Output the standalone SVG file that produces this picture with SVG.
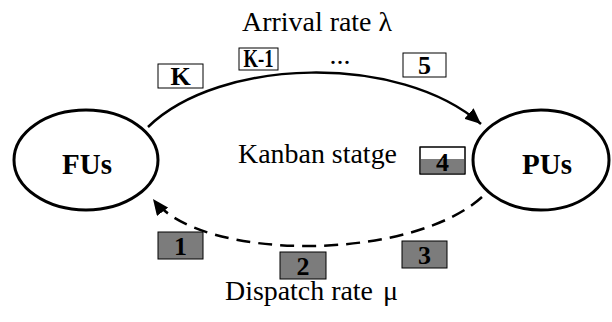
<svg xmlns="http://www.w3.org/2000/svg" width="612" height="322" viewBox="0 0 612 322">
<style>
.node{fill:#fff;stroke:#000;stroke-width:3}
.nlab{font-family:"Liberation Serif","Times New Roman",serif;font-weight:bold;font-size:29px;text-anchor:middle;fill:#000}
.lab{font-family:"Liberation Serif","Times New Roman",serif;font-size:28px;fill:#000}
.box{stroke:#000;stroke-width:1}
.wb{fill:#fff}
.gb{fill:#7c7c7c}
.blab{font-family:"Liberation Serif","Times New Roman",serif;font-weight:bold;font-size:26px;text-anchor:middle;fill:#000}
.arc{fill:none;stroke:#000;stroke-width:2.5}
.dash{stroke-dasharray:14 8}
</style>
<defs>
<marker id="ah" markerUnits="userSpaceOnUse" markerWidth="18" markerHeight="14" refX="16" refY="7" orient="auto">
<path d="M0,0 L16,7 L0,14 Z" fill="#000"/>
</marker>
</defs>
<g id="connectors">
<path class="arc" d="M148,127 C220,57 400,53 481,124" marker-end="url(#ah)"/>
<path class="arc dash" d="M482,197 C410,262 200,262 153,199" marker-end="url(#ah)"/>
</g>
<g id="FUs">
<ellipse class="node" cx="86" cy="160" rx="72" ry="50"/>
<text class="nlab" x="87" y="174">FUs</text>
</g>
<g id="PUs">
<ellipse class="node" cx="541" cy="160" rx="68" ry="50"/>
<text class="nlab" x="547" y="174">PUs</text>
</g>
<g id="title-arrival">
<text class="lab" x="242" y="31" textLength="150" lengthAdjust="spacingAndGlyphs">Arrival rate λ</text>
</g>
<g id="title-kanban">
<text class="lab" x="238" y="163" textLength="159" lengthAdjust="spacingAndGlyphs">Kanban statge</text>
</g>
<g id="title-dispatch">
<text class="lab" x="225" y="300" textLength="148" lengthAdjust="spacingAndGlyphs">Dispatch rate</text>
<text class="lab" x="383" y="300">μ</text>
</g>
<g id="box-K">
<rect class="box wb" x="158" y="64" width="45" height="24"/>
<text class="blab" x="180.5" y="85">K</text>
</g>
<g id="box-K-1">
<rect class="box wb" x="239" y="48" width="39" height="22"/>
<text class="blab" x="258.5" y="67" textLength="30" lengthAdjust="spacingAndGlyphs">K-1</text>
</g>
<g id="dots">
<text class="lab" x="340" y="64" text-anchor="middle" font-size="22">...</text>
</g>
<g id="box-5">
<rect class="box wb" x="403" y="53" width="43" height="24"/>
<text class="blab" x="424.5" y="74">5</text>
</g>
<g id="box-4">
<rect class="box wb" x="420" y="147" width="45" height="27"/>
<rect class="gb" x="420.5" y="159" width="44" height="14.5"/>
<rect class="box" x="420" y="147" width="45" height="27" fill="none"/>
<text class="blab" x="442.5" y="171">4</text>
</g>
<g id="box-1">
<rect class="box gb" x="158" y="232" width="45" height="27"/>
<text class="blab" x="180.5" y="255">1</text>
</g>
<g id="box-2">
<rect class="box gb" x="280" y="252" width="46" height="27"/>
<text class="blab" x="303" y="275">2</text>
</g>
<g id="box-3">
<rect class="box gb" x="402" y="241" width="45" height="27"/>
<text class="blab" x="424.5" y="264">3</text>
</g>
</svg>
